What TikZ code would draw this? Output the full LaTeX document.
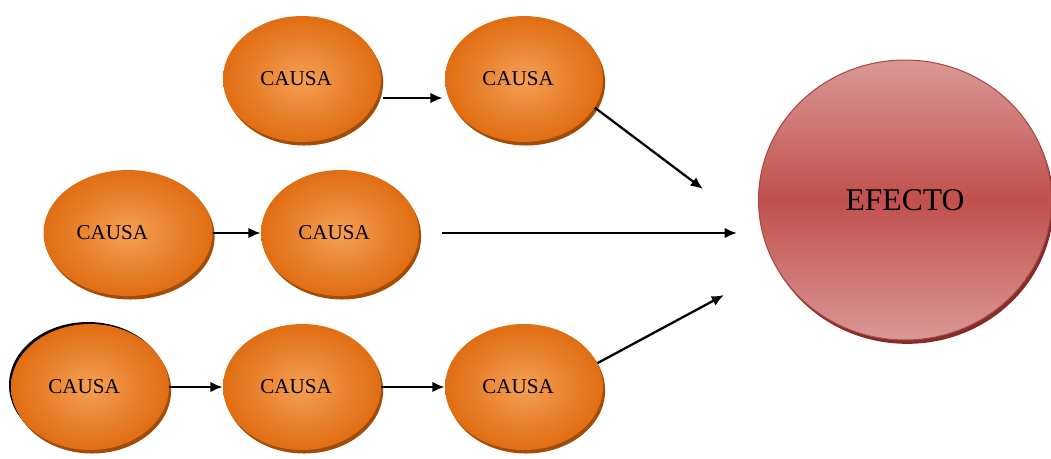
\documentclass[tikz,border=0pt]{standalone}
\usepackage{fontspec}
\setmainfont{Liberation Serif}
\usetikzlibrary{shapes.geometric,shadows,arrows.meta,calc}
\definecolor{causain}{HTML}{F59F55}
\definecolor{causaout}{HTML}{E06D12}
\definecolor{causadark}{HTML}{A14C08}
\definecolor{efectomid}{HTML}{C0504D}
\definecolor{efectolight}{HTML}{DA9896}
\definecolor{efectodark}{HTML}{862B29}
\begin{document}
\begin{tikzpicture}[x=0.02cm,y=-0.02cm,
                    causa/.style={ellipse,minimum width=3.16cm,minimum height=2.52cm,inner sep=0pt,
                                  inner color=causain,outer color=causaout,
                                  general shadow={fill=causadark,shadow xshift=1.2pt,shadow yshift=-2pt},
                                  font=\fontsize{12}{14}\selectfont,
                                  execute at end node=\hspace*{6.8pt}},
                    efecto/.style={ellipse,minimum width=5.86cm,minimum height=5.6cm,inner sep=0pt,
                                   top color=efectolight,bottom color=efectolight,middle color=efectomid,
                                   draw=efectomid!90!black,line width=0.6pt,
                                   general shadow={fill=efectodark,shadow xshift=1.2pt,shadow yshift=-2.2pt},
                                   font=\fontsize{18}{20}\selectfont},
                    arr/.style={-{Latex[length=7pt,width=6pt]},line width=1.3pt}
]
\useasboundingbox (0,0) rectangle (1051,458);
%
\node [causa] at (302,79) (c1) {CAUSA};
\node [causa] at (524,79) (c2) {CAUSA};
\node [causa, minimum width=3.38cm, execute at end node=\hspace*{11pt}] at (128,233) (c3) {CAUSA};
\node [causa] at (340,233) (c4) {CAUSA};
\node [ellipse, fill=black, minimum width=3.16cm, minimum height=2.52cm] at (88,385) (c5edge) {};
\node [causa] at (90,387) (c5) {CAUSA};
\node [causa] at (302,387) (c6) {CAUSA};
\node [causa] at (524,387) (c7) {CAUSA};
\node [efecto] at (905,200) (efecto) {\raisebox{-3pt}{EFECTO}};
%
\coordinate (in1) at (703,189);
\coordinate (in3) at (724,295);
%
\draw [arr] ($(c1.east)+(2,19)$) -- ($(c2.west)+(-2,19)$);
\draw [arr] (c2.-22) -- (in1);
\draw [arr] (c3.east) -- (c4.west);
\draw [arr, shorten <=13pt, shorten >=12pt] (c4.east) -- (c4.east -| efecto.west);
\draw [arr] (c5.east) -- (c6.west);
\draw [arr] (c6.east) -- (c7.west);
\draw [arr] (c7.18) -- (in3);
\end{tikzpicture}
\end{document}
